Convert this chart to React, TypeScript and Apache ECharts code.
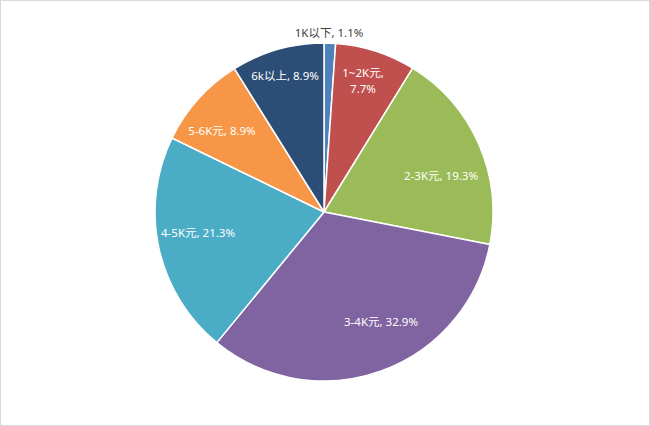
import React, { useEffect, useRef } from "react";
import * as echarts from "echarts";

const categories = ["1K以下", "1~2K元", "2-3K元", "3-4K元", "4-5K元", "5-6K元", "6k以上"];
const values = [1.1, 7.7, 19.3, 32.9, 21.3, 8.9, 8.9];
const colors = ["#4f81bd", "#c0504d", "#9bbb59", "#8064a2", "#4bacc6", "#f79646", "#2c4d75"];
// label offsets from pie centre (px), mimicking Excel "best fit"
const labelOffsets: [number, number][] = [
  [5, -180],
  [39, -132],
  [117, -37],
  [57, 109],
  [-126, 20],
  [-102, -82],
  [-39, -137],
];
const wrapLabel = [false, true, false, false, false, false, false];

const CX = 323;
const CY = 211;
const R = 169;

export default function App() {
  const ref = useRef<HTMLDivElement>(null);
  useEffect(() => {
    document.body.style.margin = "0";
    const chart = echarts.init(ref.current!, undefined, { renderer: "svg" });
    chart.setOption({
      animation: false,
      backgroundColor: "#ffffff",
      series: [
        {
          type: "pie",
          center: [CX, CY],
          radius: R,
          startAngle: 90,
          clockwise: true,
          avoidLabelOverlap: false,
          itemStyle: { borderColor: "#ffffff", borderWidth: 1.5 },
          label: {
            show: true,
            position: "inside",
            color: "#ffffff",
            fontSize: 11.5,
            lineHeight: 16,
            fontFamily: "'Noto Sans', 'Noto Sans CJK SC', sans-serif",
            formatter: (p: any) =>
              wrapLabel[p.dataIndex] ? `${p.name},\n${p.value}%` : `${p.name}, ${p.value}%`,
          },
          labelLine: { show: false },
          labelLayout: (p: any) => {
            const o = labelOffsets[p.dataIndex];
            return { x: CX + o[0], y: CY + o[1], align: "center", verticalAlign: "middle" };
          },
          emphasis: { disabled: true },
          data: categories.map((c, i) => ({
            name: c,
            value: values[i],
            itemStyle: { color: colors[i] },
            label: i === 0 ? { color: "#404040" } : undefined,
          })),
        },
      ],
    });
    return () => chart.dispose();
  }, []);
  return (
    <div
      style={{
        width: 650,
        height: 426,
        border: "1px solid #d9d9d9",
        boxSizing: "border-box",
        background: "#fff",
      }}
    >
      <div ref={ref} style={{ width: 648, height: 424 }} />
    </div>
  );
}
